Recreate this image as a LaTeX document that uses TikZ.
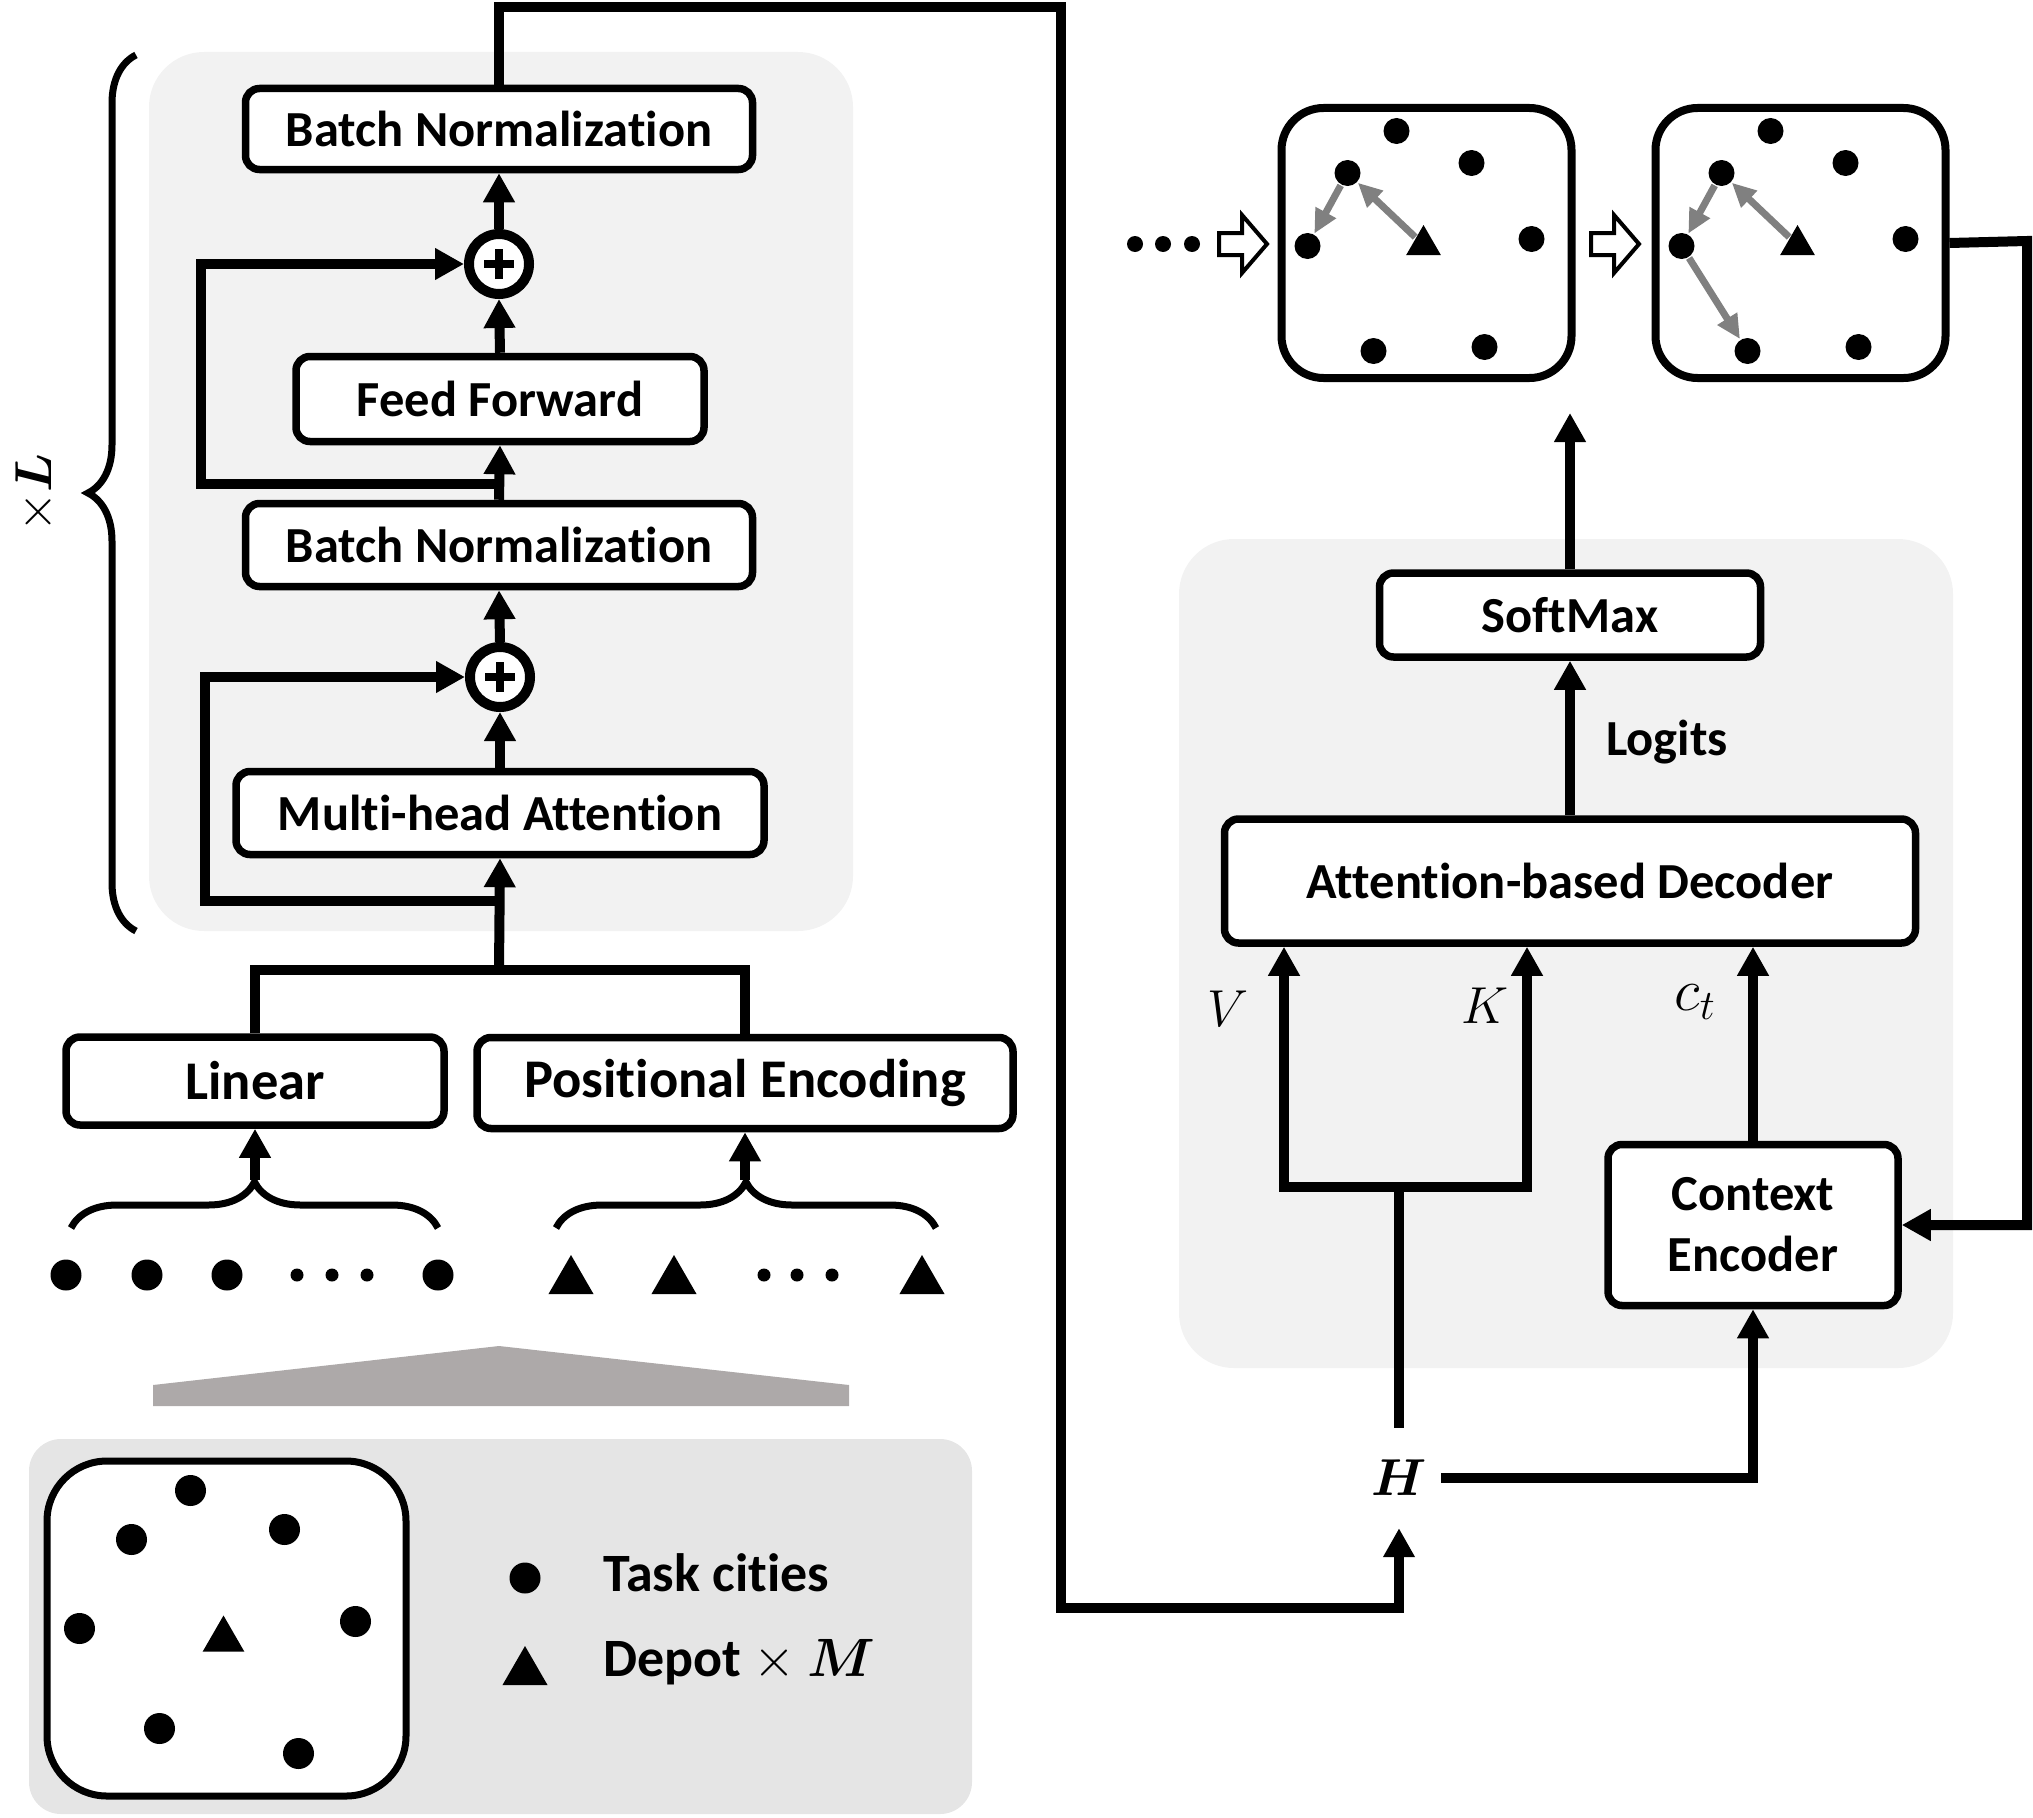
\RequirePackage{fix-cm}
\documentclass[tikz,border=0pt]{standalone}
\usepackage{amsmath}
\usepackage{fontspec}
\setmainfont{Carlito}[Ligatures=NoCommon]
\usetikzlibrary{arrows.meta,positioning,calc,shapes.geometric,decorations.pathreplacing}
\colorlet{encfill}{black!5}
\colorlet{srcfill}{black!10}
\definecolor{fangray}{HTML}{ADA9A9}
\colorlet{tourgray}{black!50}

\begin{document}
\begin{tikzpicture}[x=1pt, y=-1pt,
      blk/.style={draw, line width=7.5pt, rounded corners=14pt, fill=white, align=center,
                  inner sep=0pt, font=\fontsize{50.5}{61}\selectfont\bfseries},
      bigblk/.style={blk, font=\fontsize{54.5}{62}\selectfont\bfseries},
      addnode/.style={circle, draw, line width=10pt, fill=white, minimum size=60pt, inner sep=0pt},
      conn/.style={line width=10pt},
      arr/.style={conn, -{Triangle[length=29pt, width=30pt]}},
      dbl/.style={conn, {Triangle[length=29pt, width=30pt]}-{Triangle[length=29pt, width=30pt]}},
      brc/.style={line width=7pt, decorate, decoration={brace, amplitude=#1}},
      brc/.default=48pt,
      city/.style={circle, fill=black, inner sep=0pt, minimum size=31pt},
      mcity/.style={city, minimum size=26pt},
      tiny/.style={circle, fill=black, inner sep=0pt, minimum size=13pt},
      depot/.style={regular polygon, regular polygon sides=3, fill=black, inner sep=0pt,
                  minimum size=52pt},
      mapbox/.style={draw, line width=8pt, rounded corners=42pt, inner sep=0pt, fill=white},
      tour/.style={draw=tourgray, line width=7pt, -{Triangle[length=24pt, width=22pt]},
                  shorten >=1pt, shorten <=1pt},
      lab/.style={font=\fontsize{50.5}{60}\selectfont\bfseries},
      mathlab/.style={font=\fontsize{52}{60}\selectfont}
    ]
    \useasboundingbox (0,0) rectangle (2033,1817);
    % panels
    \fill[encfill, rounded corners=55pt] (149,52) rectangle (853,931);
    \fill[encfill, rounded corners=55pt] (1179,539) rectangle (1953,1368);
    \fill[srcfill, rounded corners=32pt] (29,1439) rectangle (972,1814);

    % encoder layer
    \node[blk, minimum width=507pt, minimum height=81pt] (bnTop) at (499,129) {Batch Normalization};
    \node[addnode] (addFF) at (499,264) {};
    \node[blk, minimum width=408pt, minimum height=85pt] (ff) at (500,399) {Feed Forward};
    \node[blk, minimum width=507pt, minimum height=83pt] (bnMid) at (499,545) {Batch Normalization};
    \node[addnode] (addMHA) at (500,677) {};
    \node[blk, minimum width=528pt, minimum height=83pt] (mha) at (500,813) {Multi-head Attention};
    \foreach \n in {addFF, addMHA}
      \draw[line width=8pt] ([xshift=-15pt]\n.center) -- ([xshift=15pt]\n.center)
        ([yshift=-15pt]\n.center) -- ([yshift=15pt]\n.center);
    \foreach \a/\b in {mha/addMHA, addMHA/bnMid, bnMid/ff, ff/addFF, addFF/bnTop}
      \draw[arr] (\a.north) -- (\b.south);
    \coordinate (ffTap) at (499,484);
    \draw[arr] (ffTap) -- ++(-298,0) |- (addFF.west);
    \coordinate (mhaTap) at (500,901);
    \draw[arr] (mhaTap) -- ++(-295,0) |- (addMHA.west);
    \draw[brc] (136,931) -- (136,55);
    \node[mathlab, rotate=90] (reps) at (36,493) {$\times\boldsymbol{L}$};

    % embeddings
    \node[bigblk, minimum width=378pt, minimum height=88pt] (lin) at (255,1081) {Linear};
    \node[bigblk, minimum width=536pt, minimum height=91pt] (posenc) at (745,1083) {Positional Encoding};
    \coordinate (join) at (499,970);
    \draw[conn] (lin.north) |- (join) -| (posenc.north);
    \draw[arr] (join) -- (mha.south);
    \draw[brc=46pt] (71,1228) -- (438,1228);
    \draw[brc=46pt] (556,1228) -- (936,1228);
    \coordinate (cityTip) at (255,1180);
    \coordinate (depotTip) at (745,1180);
    \draw[arr] (cityTip) -- (lin.south);
    \draw[arr] (depotTip) -- (posenc.south);
    \foreach \x [count=\i] in {66,147,227,438}
      \node[city] (c\i) at (\x,1275) {};
    \foreach \x [count=\i] in {297,332,367}
      \node[tiny] (cd\i) at (\x,1275) {};
    \foreach \x [count=\i] in {571,674,922}
      \node[depot] (dp\i) at (\x,1281) {};
    \foreach \x [count=\i] in {764,797,832}
      \node[tiny] (dd\i) at (\x,1275) {};
    \fill[fangray] (153,1406) -- (153,1385) -- (499,1346) -- (849,1385) -- (849,1406) -- cycle;

    % problem instance
    \node[mapbox, line width=7pt, rounded corners=60pt, minimum width=359pt, minimum height=335pt]
      (mapIn) at (226.5,1628.5) {};
    \foreach \dx/\dy [count=\i] in {147/33, 88/82, 241/72, 36/171, 312/164, 116/271, 255/296}
      \node[city] (in\i) at ($(mapIn.north west)+(\dx,\dy)$) {};
    \node[depot, minimum size=48pt] (inT) at ($(mapIn.north west)+(180,182)$) {};
    % legend
    \node[city] (lgCity) at (525,1578) {};
    \node[lab, font=\fontsize{54}{60}\selectfont\bfseries, anchor=west] (lgCityTxt) at (600,1573) {Task cities};
    \node[depot] (lgDepot) at (525,1672) {};
    \node[lab, font=\fontsize{54}{60}\selectfont\bfseries, anchor=west] (lgDepotTxt) at (600,1662)
      {Depot $\times\ \boldsymbol{M}$};

    % decoder
    \node[blk, minimum width=381pt, minimum height=84pt] (softmax) at (1570,615) {SoftMax};
    \node[blk, minimum width=691pt, minimum height=124pt] (dec) at (1570,881) {Attention-based Decoder};
    \node[blk, minimum width=290pt, minimum height=161pt] (ctx) at (1753,1225) {Context\\Encoder};
    \node[lab] (logits) at (1667,742) {Logits};
    \coordinate (smOut) at (1570,413);
    \draw[arr] (dec.north) -- (softmax.south);
    \draw[arr] (softmax.north) -- (smOut);
    \node[mathlab, minimum width=84pt, minimum height=100pt, inner sep=0pt] (H) at (1399,1478) {$\boldsymbol{H}$};
    \coordinate (vIn) at (1284,1187);
    \coordinate (kIn) at (1527,1187);
    \draw[dbl] (vIn |- dec.south) -- (vIn) -- (kIn) -- (kIn |- dec.south);
    \draw[conn] (H.north) -- (H.north |- vIn);
    \node[mathlab] (vLab) at (1228,1009) {$V$};
    \node[mathlab] (kLab) at (1485,1006) {$K$};
    \node[mathlab, font=\fontsize{60}{60}\selectfont] (ctLab) at (1695,1002) {$c_t$};
    \draw[arr] (ctx.north) -- (ctx.north |- dec.south);
    \draw[arr] (H.east) -| (ctx.south);
    \coordinate (busTop) at (1061,7);
    \coordinate (busBot) at (1061,1608);
    \draw[arr] (bnTop.north) |- (busTop) -- (busBot) -| (H.south);

    % partial tours
    \foreach \x [count=\i] in {1135,1163,1192}
      \node[tiny, minimum size=16pt] (pre\i) at (\x,244) {};
    \foreach \x in {1219,1591}
      \draw[line width=4pt, fill=white] (\x,233) -- ++(23,0) -- ++(0,-18) -- ++(25,29)
        -- ++(-25,29) -- ++(0,-18) -- ++(-23,0) -- cycle;
    \node[mapbox, minimum width=290pt, minimum height=270pt] (mapA) at (1426.5,243) {};
    \node[mapbox, minimum width=290pt, minimum height=270pt] (mapB) at (1800.5,243) {};
    \foreach \m in {mapA,mapB} {
      \foreach \dx/\dy [count=\i] in {119/27, 194/59, 70/69, 30/142, 254/135, 96/247, 207/243}
        \node[mcity] (\m-\i) at ($(\m.north west)+(\dx,\dy)$) {};
      \node[depot, minimum size=40pt] (\m-t) at ($(\m.north west)+(146,141)$) {};
    }
    \foreach \a/\b in {mapA-t/mapA-3, mapA-3/mapA-4, mapB-t/mapB-3, mapB-3/mapB-4, mapB-4/mapB-6}
      \draw[tour] (\a) -- (\b);
    \coordinate (loopR) at (2027,241);
    \draw[arr] (mapB.east) -- (loopR) |- (ctx.east);
  \end{tikzpicture}
\end{document}
